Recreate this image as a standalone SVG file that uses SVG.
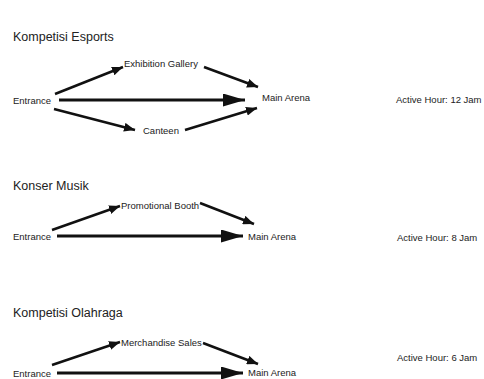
<svg xmlns="http://www.w3.org/2000/svg" width="484" height="379" viewBox="0 0 484 379">
<style>
text{font-family:"Liberation Sans",Arial,sans-serif;fill:#222}
.t{font-size:12.5px}
.n{font-size:9.5px}
.e{stroke:#111;stroke-width:2.5;fill:none}
.m{stroke:#111;stroke-width:3;fill:none}
</style>
<defs>
<marker id="ah" markerUnits="userSpaceOnUse" markerWidth="11" markerHeight="9" refX="11" refY="4.5" orient="auto"><path d="M0,0L11,4.5L0,9z" fill="#111"/></marker>
<marker id="ahb" markerUnits="userSpaceOnUse" markerWidth="22" markerHeight="13" refX="22" refY="6.5" orient="auto"><path d="M0,0L22,6.5L0,13z" fill="#111"/></marker>
</defs>
<rect width="484" height="379" fill="#fff"/>
<text class="t" x="13" y="41">Kompetisi Esports</text>
<text class="t" x="13" y="190">Konser Musik</text>
<text class="t" x="13" y="317">Kompetisi Olahraga</text>
<g id="connectors">
<line class="e" x1="55" y1="94" x2="123" y2="67" marker-end="url(#ah)"/>
<line class="e" x1="204" y1="67" x2="258" y2="87" marker-end="url(#ah)"/>
<line class="m" x1="59" y1="100" x2="245" y2="100" marker-end="url(#ahb)"/>
<line class="e" x1="54" y1="109" x2="135" y2="130" marker-end="url(#ah)"/>
<line class="e" x1="185" y1="130" x2="257" y2="108" marker-end="url(#ah)"/>
<line class="e" x1="52" y1="230" x2="120" y2="206" marker-end="url(#ah)"/>
<line class="e" x1="200" y1="203" x2="254" y2="224" marker-end="url(#ah)"/>
<line class="m" x1="57" y1="236" x2="243" y2="236" marker-end="url(#ahb)"/>
<line class="e" x1="52" y1="365" x2="120" y2="342" marker-end="url(#ah)"/>
<line class="e" x1="203" y1="343" x2="258" y2="364" marker-end="url(#ah)"/>
<line class="m" x1="57" y1="373" x2="243" y2="373" marker-end="url(#ahb)"/>
</g>
<g id="s1-entrance"><text class="n" x="13" y="103.5">Entrance</text></g>
<g id="s1-exhibition"><text class="n" x="124" y="66.5">Exhibition Gallery</text></g>
<g id="s1-canteen"><text class="n" x="143" y="134">Canteen</text></g>
<g id="s1-main"><text class="n" x="262" y="100.5">Main Arena</text></g>
<g id="s1-hour"><text class="n" x="396" y="102.5">Active Hour: 12 Jam</text></g>
<g id="s2-entrance"><text class="n" x="13" y="240">Entrance</text></g>
<g id="s2-promo"><text class="n" x="121" y="208.5">Promotional Booth</text></g>
<g id="s2-main"><text class="n" x="248" y="239.5">Main Arena</text></g>
<g id="s2-hour"><text class="n" x="397" y="240.5">Active Hour: 8 Jam</text></g>
<g id="s3-entrance"><text class="n" x="13" y="376.5">Entrance</text></g>
<g id="s3-merch"><text class="n" x="121" y="345.5">Merchandise Sales</text></g>
<g id="s3-main"><text class="n" x="248" y="375.5">Main Arena</text></g>
<g id="s3-hour"><text class="n" x="397" y="360.5">Active Hour: 6 Jam</text></g>
</svg>
